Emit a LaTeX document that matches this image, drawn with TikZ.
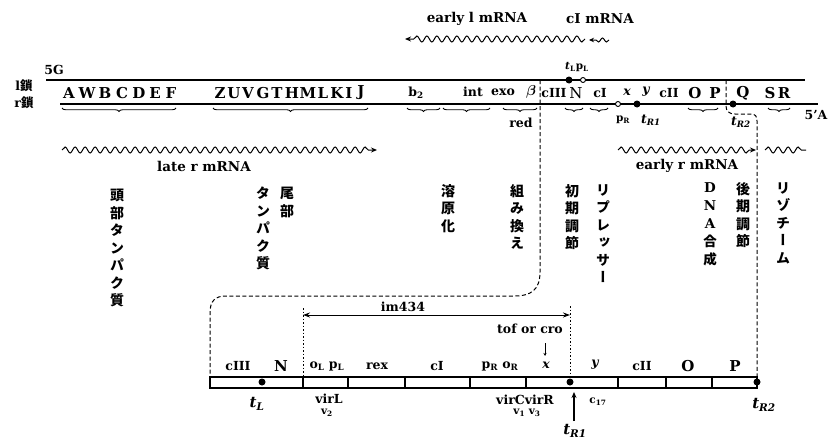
\documentclass[tikz,border=0pt]{standalone}
\usepackage{amsmath}
\usepackage{fontspec}
\setmainfont{DejaVu Serif}
\newfontfamily\cjk{Noto Sans CJK JP}
\newfontfamily\cjkv[RawFeature=+vert]{Noto Sans CJK JP}
\usetikzlibrary{decorations.pathmorphing,decorations.pathreplacing,arrows.meta}
\tikzset{
  lab/.style={font=\bfseries\fontsize{12.5}{15}\selectfont, inner sep=0pt},
  smlab/.style={font=\bfseries\fontsize{10.5}{12}\selectfont, inner sep=0pt},
  biglab/.style={font=\bfseries\fontsize{13.5}{16}\selectfont, inner sep=0pt},
  gene/.style={font=\bfseries\fontsize{15}{17}\selectfont, inner sep=0pt},
  itlab/.style={font=\bfseries\itshape\fontsize{12.5}{15}\selectfont, inner sep=0pt},
  tlab/.style={font=\bfseries\itshape\fontsize{15}{18}\selectfont, inner sep=0pt},
  vj/.style={font=\cjkv\bfseries\fontsize{14}{17.5}\selectfont, align=center, anchor=north, inner sep=0pt},
  strand/.style={line width=1.4pt},
  wave/.style={line width=1pt, decorate, decoration={snake, segment length=10pt, amplitude=3pt, post length=5pt}},
  wavearrow/.style={wave, -{Stealth[length=6pt,width=5pt]}},
  brc/.style={decorate, decoration={brace, mirror, amplitude=3.5pt}, line width=0.9pt},
  dsh/.style={line width=1pt, dash pattern=on 4pt off 2.5pt},
  dtt/.style={line width=1pt, dash pattern=on 1.5pt off 2pt},
  box/.style={line width=1.1pt},
  fdot/.style={circle, fill=black, inner sep=0pt, minimum size=7pt},
  odot/.style={circle, draw=black, fill=white, line width=0.9pt, inner sep=0pt, minimum size=5pt},
}
\begin{document}
\begin{tikzpicture}[x=1pt,y=-1pt]
\useasboundingbox (0,0) rectangle (828,439);

% ---------- strands ----------
\coordinate (l1) at (46,80); \coordinate (l2) at (805,80);
\coordinate (r1) at (60,104); \coordinate (r2) at (818,104);
\draw[strand] (l1) -- (l2);
\draw[strand] (r1) -- (r2);
\node[lab, font=\bfseries\fontsize{12.5}{14}\selectfont] (lc) at (24,86) {l{\cjk\bfseries 鎖}};
\node[lab, font=\bfseries\fontsize{12.5}{14}\selectfont] (rc) at (24,103) {r{\cjk\bfseries 鎖}};
\node[lab] (fiveG) at (54,70) {5G};
\node[lab] (fiveA) at (816,115) {5'A};

% gene letters on the strand
\foreach \x/\t [count=\i] in {69/A,87/W,105/B,122/C,139/D,155/E,171/F}
  \node[gene, name=ga\i] at (\x,93) {\t};
\foreach \x/\t [count=\i] in {220/Z,234/U,248/V,263/G,277/T,292/H,308/M,323/L,337/K,349/I,361/J}
  \node[gene, name=gb\i] at (\x,93) {\t};
\node[lab] (b2) at (416,93) {b\textsubscript{2}};
\node[lab] (int) at (473,92) {int};
\node[lab] (exo) at (503,92) {exo};
\node[gene] (beta) at (531,92) {$\boldsymbol{\beta}$};
\node[lab] (c3) at (554,93) {cIII};
\node[gene, font=\fontsize{15}{17}\selectfont] (Nn) at (576,93) {N};
\node[lab] (c1) at (600,93) {cI};
\node[itlab] (xx) at (627,92) {x};
\node[itlab] (yy) at (646,92) {y};
\node[lab] (c2) at (669,93) {cII};
\node[gene] (Oo) at (695,93) {O};
\node[gene] (Pp) at (715,93) {P};
\node[gene] (Qq) at (743,93) {Q};
\node[gene] (Ss) at (770,93) {S};
\node[gene] (Rr) at (784,93) {R};

% braces under the strand
\foreach \a/\b [count=\i] in {62/176,213/368,407/440,443/490,503/537,565/583,590/608,688/718,768/790}
  \draw[brc] (\a,108) coordinate (bra\i) -- (\b,108) coordinate (brb\i);
\node[lab] (red) at (521,123) {red};

% promoters / terminators
\node[fdot] (tL) at (569,80) {};
\node[odot] (pL) at (583,80) {};
\node[odot] (pR) at (618,104) {};
\node[fdot] (tR1) at (637,104) {};
\node[fdot] (tR2) at (733,104) {};
\node[smlab] (tLpL) at (577,67) {\textit{t}\textsubscript{L}p\textsubscript{L}};
\node[smlab] (pRl) at (623,120) {p\textsubscript{R}};
\node[itlab] (tR1l) at (651,120) {t\textsubscript{R1}};
\node[itlab] (tR2l) at (741,122) {t\textsubscript{R2}};

% ---------- mRNAs ----------
\coordinate (el1) at (585,39); \coordinate (el2) at (405,39);
\draw[wavearrow] (el1) -- (el2);
\coordinate (ci1) at (609,40); \coordinate (ci2) at (589,40);
\draw[line width=1pt, -{Stealth[length=5pt,width=4.5pt]}, decorate, decoration={snake, segment length=8pt, amplitude=2pt, post length=4pt}] (ci1) -- (ci2);
\node[biglab] (elab) at (477,19) {early l mRNA};
\node[biglab] (cilab) at (600,19) {cI mRNA};

\coordinate (lr1) at (62,150); \coordinate (lr2) at (377,150);
\draw[wavearrow] (lr1) -- (lr2);
\node[biglab] (lrlab) at (204,166) {late r mRNA};
\coordinate (er1) at (618,150); \coordinate (er2) at (756,150);
\draw[wavearrow] (er1) -- (er2);
\node[biglab] (erlab) at (687,166) {early r mRNA};
\coordinate (sw1) at (765,150); \coordinate (sw2) at (806,150);
\draw[line width=1pt, decorate, decoration={snake, segment length=10pt, amplitude=3pt}] (sw1) -- (sw2);

% ---------- Japanese functions ----------
\node[vj] (j1) at (117,189) {頭\\部\\タ\\ン\\パ\\ク\\質};
\node[vj] (j2a) at (287,187) {尾\\部};
\node[vj] (j2b) at (263,187) {タ\\ン\\パ\\ク\\質};
\node[vj] (j3) at (448,184) {溶\\原\\化};
\node[vj] (j4) at (517,184) {組\\み\\換\\え};
\node[vj] (j5) at (572,184) {初\\期\\調\\節};
\node[vj] (j6) at (603,184) {リ\\プ\\レ\\ッ\\サ\\ー};
\node[vj, font=\bfseries\fontsize{13.5}{18}\selectfont] (j7) at (710,182) {D\\N\\A\\{\cjk\bfseries 合}\\{\cjk\bfseries 成}};
\node[vj] (j8) at (743,182) {後\\期\\調\\節};
\node[vj] (j9) at (783,182) {リ\\ゾ\\チ\\ー\\ム};

% ---------- dashed mapping lines ----------
\coordinate (dl0) at (540,80);
\coordinate (dl1) at (210,377);
\draw[dsh] (dl0) -- (540,272) .. controls (540,290) and (531,296) .. (514,296) -- (226,296) .. controls (215,296) and (210,301) .. (210,313) -- (dl1);
\coordinate (dr0) at (726,80);
\coordinate (dr1) at (757,382);
\draw[dsh] (dr0) -- (726,106) .. controls (726,111) and (729,114) .. (735,114) -- (751,114) .. controls (755,114) and (757,116) .. (757,121) -- (dr1);
\coordinate (dm0) at (303,308); \coordinate (dm1) at (303,377);
\draw[dtt] (dm0) -- (dm1);
\coordinate (dn0) at (570,306); \coordinate (dn1) at (570,380);
\draw[dtt] (dn0) -- (dn1);

% im434
\coordinate (ima) at (303,315); \coordinate (imb) at (570,315);
\draw[line width=1pt, {Stealth[length=7pt,width=5pt]}-{Stealth[length=7pt,width=5pt]}] (ima) -- (imb);
\node[lab] (imlab) at (403,307) {im434};
\node[lab] (tof) at (530,329) {tof or cro};
\coordinate (tp0) at (545,343); \coordinate (tp1) at (545,356);
\draw[line width=0.9pt, -{Stealth[length=3pt,width=3pt]}] (tp0) -- (tp1);

% ---------- bottom map ----------
\draw[box] (210,377) rectangle (757,388);
\foreach \x [count=\i] in {303,348,405,470,526,618,666,712}
  \draw[box] (\x,377) coordinate (dvt\i) -- (\x,388) coordinate (dvb\i);
\node[fdot] (btL) at (262,382) {};
\node[fdot] (btR1) at (570,382) {};
\node[fdot] (btR2) at (757,382) {};

\node[lab] (bc3) at (238,366) {cIII};
\node[gene] (bN) at (281,366) {N};
\node[lab] (boL) at (327,366) {o\textsubscript{L} p\textsubscript{L}};
\node[lab] (brex) at (377,366) {rex};
\node[lab] (bc1) at (437,366) {cI};
\node[lab] (bpR) at (500,366) {p\textsubscript{R} o\textsubscript{R}};
\node[itlab] (bx) at (546,365) {x};
\node[itlab] (by) at (595,365) {y};
\node[lab] (bc2) at (642,366) {cII};
\node[gene] (bO) at (688,366) {O};
\node[gene] (bP) at (735,366) {P};

\node[tlab] (btLl) at (257,404) {t\textsubscript{L}};
\node[lab] (virL) at (329,399) {virL};
\node[smlab] (v2) at (327,413) {v\textsubscript{2}};
\node[lab] (virCR) at (525,400) {virCvirR};
\node[smlab] (v13) at (527,413) {v\textsubscript{1} v\textsubscript{3}};
\node[smlab] (c17) at (598,402) {c\textsubscript{17}};
\coordinate (ar0) at (574,421); \coordinate (ar1) at (574,392);
\draw[line width=1.1pt, -{Stealth[length=6pt,width=5pt]}] (ar0) -- (ar1);
\node[tlab] (btR1l) at (575,431) {t\textsubscript{R1}};
\node[tlab] (btR2l) at (764,405) {t\textsubscript{R2}};
\end{tikzpicture}
\end{document}
